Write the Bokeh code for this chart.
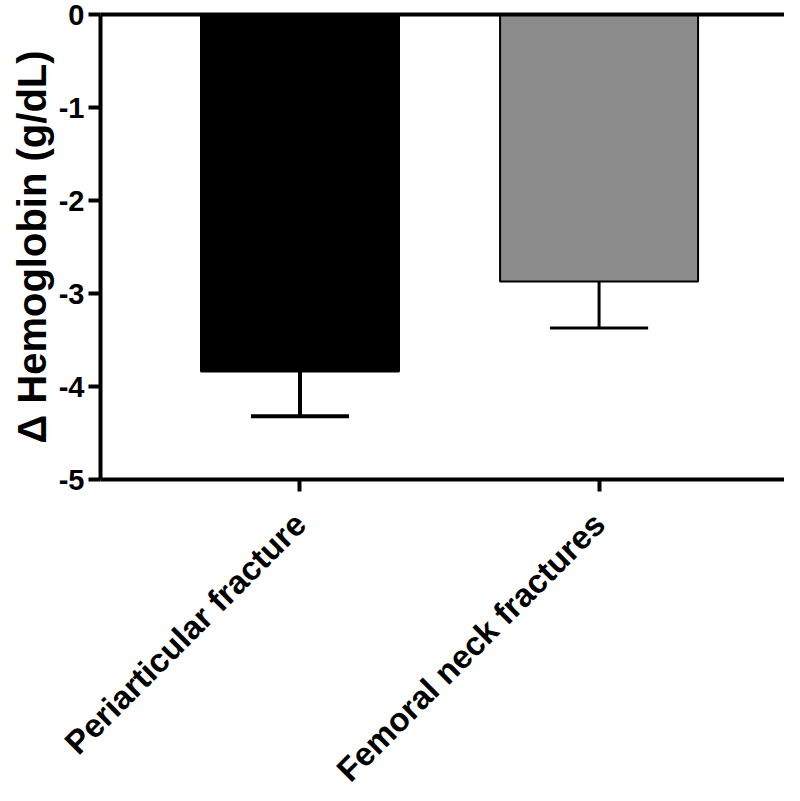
from bokeh.plotting import figure
from bokeh.models import FixedTicker, ColumnDataSource, Range1d, LinearAxis
from bokeh.embed import file_html
from bokeh.resources import INLINE
import math

categories = ["Periarticular fracture", "Femoral neck fractures"]
means = [-3.84, -2.87]
errors = [0.48, 0.50]
y_ticks = [0, -1, -2, -3, -4, -5]

xs = [1, 2]
fills = ["#000000", "#8c8c8c"]
err_widths = [4, 3]
cap_half = 0.164

src = ColumnDataSource(dict(
    x=xs, top=[0] * len(xs), bottom=means, fill=fills,
    y_err=[m - e for m, e in zip(means, errors)],
    x0=[x - cap_half for x in xs], x1=[x + cap_half for x in xs],
    lw=err_widths,
))

p = figure(frame_width=684, frame_height=465, output_backend="svg", toolbar_location=None,
           x_range=Range1d(0.333, 2.62), y_range=Range1d(-5, 0),
           min_border_left=100, min_border_right=0, min_border_top=14, min_border_bottom=0)
p.outline_line_color = None
p.xgrid.visible = False
p.ygrid.visible = False
p.background_fill_color = "white"

p.vbar(x="x", top="top", bottom="bottom", width=0.662, fill_color="fill",
       line_color="black", line_width=2, source=src)
p.segment(x0="x", y0="bottom", x1="x", y1="y_err", line_color="black", line_width="lw", source=src)
p.segment(x0="x0", y0="y_err", x1="x1", y1="y_err", line_color="black", line_width="lw", source=src)

font = "Liberation Sans"
# Y axis
ya = p.yaxis[0]
ya.ticker = FixedTicker(ticks=y_ticks)
ya.major_label_overrides = {t: str(t) for t in y_ticks}
ya.minor_tick_line_color = None
ya.major_tick_in = 0
ya.major_tick_out = 12
ya.major_tick_line_width = 4
ya.axis_line_width = 4
ya.major_label_text_font = font
ya.major_label_text_font_style = "bold"
ya.major_label_text_font_size = "29px"
ya.major_label_text_color = "black"
ya.major_label_standoff = 4
ya.axis_label = "Δ Hemoglobin (g/dL)"
ya.axis_label_text_font = font
ya.axis_label_text_font_style = "bold"
ya.axis_label_text_font_size = "40px"
ya.axis_label_text_color = "black"
ya.axis_label_standoff = 2

# X axis
xa = p.xaxis[0]
xa.ticker = FixedTicker(ticks=xs)
xa.major_label_overrides = {x: c for x, c in zip(xs, categories)}
xa.minor_tick_line_color = None
xa.major_tick_in = 0
xa.major_tick_out = 12
xa.major_tick_line_width = 4
xa.axis_line_width = 4
xa.major_label_orientation = math.pi / 4
xa.major_label_text_font = font
xa.major_label_text_font_style = "bold"
xa.major_label_text_font_size = "33px"
xa.major_label_text_color = "black"
xa.major_label_standoff = 27

# top line at zero
top = LinearAxis(ticker=FixedTicker(ticks=[]), axis_line_width=4, major_label_text_font_size="0px")
top.minor_tick_line_color = None
top.major_tick_line_color = None
p.add_layout(top, "above")

open("out.html", "w").write(file_html(p, INLINE))
